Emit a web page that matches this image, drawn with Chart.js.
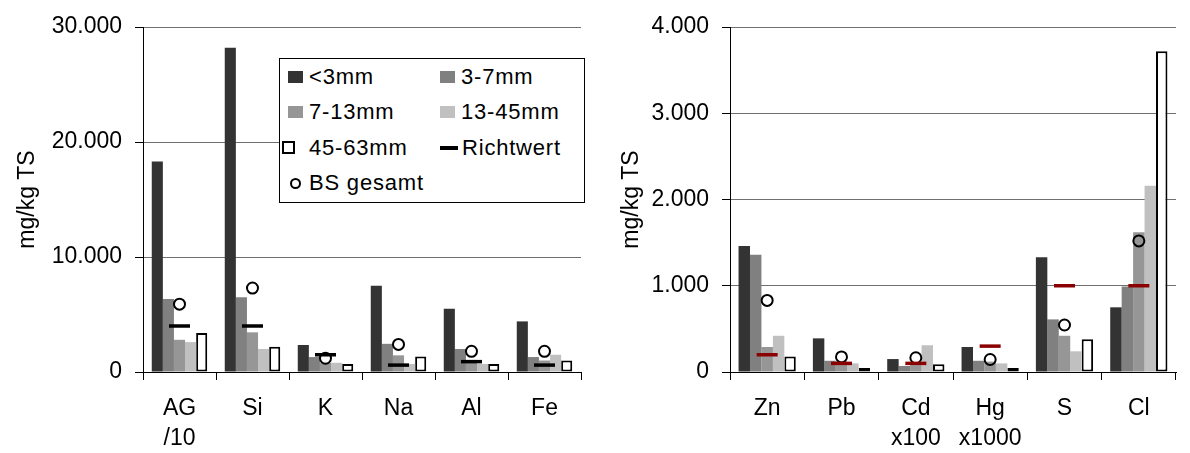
<!DOCTYPE html>
<html>
<head>
<meta charset="utf-8">
<script src="https://cdn.jsdelivr.net/npm/chart.js@4/dist/chart.umd.min.js"></script>
<style>
  body { margin: 0; background: #fff; font-family: "Liberation Sans", Arial, sans-serif; }
  #wrap { position: relative; width: 1190px; height: 453px; overflow: hidden; }
  #chartL { position: absolute; left: 0; top: 0; }
  #chartR { position: absolute; left: 600px; top: 0; }
  .legend { position: absolute; left: 279px; top: 58px; width: 304px; height: 143px;
    border: 1px solid #000; background: #fff; font-size: 22px; letter-spacing: 0.8px; color: #000; }
  .item { position: absolute; height: 35.5px; display: flex; align-items: center; }
  .sw { width: 15px; height: 12px; margin-right: 6px; box-sizing: border-box; }
  .sw.hollow { width: 13px; height: 13px; border: 2px solid #000; margin-left: -6px; margin-right: 14px; }
  .sw.dash { width: 18px; height: 4px; background: #000; margin-right: 4px; }
  .sw.ring { width: 11px; height: 11px; border: 2px solid #000; border-radius: 50%; margin-left: 2px; margin-right: 8px; }
</style>
</head>
<body>
<div id="wrap">
  <canvas id="chartL" width="595" height="453"></canvas>
  <canvas id="chartR" width="590" height="453"></canvas>
  <div class="legend" id="legend"></div>
</div>
<script>
// left chart (main elements)
const labelsL = [["AG", "/10"], "Si", "K", "Na", "Al", "Fe"];
const lt3L = [18300, 28200, 2350, 7500, 5500, 4400];
const s3to7L = [6350, 6500, 1300, 2450, 2000, 1300];
const s7to13L = [2800, 3450, 800, 1450, 1050, 1000];
const s13to45L = [2600, 2000, 800, 700, 700, 1500];
const s45to63L = [3400, 2200, 700, 1350, 700, 1000];
const richtL = [4000, 4000, 1500, 600, 900, 600];
const bsL = [5900, 7300, 1200, 2400, 1800, 1800];

// right chart (trace elements)
const labelsR = ["Zn", "Pb", ["Cd", "x100"], ["Hg", "x1000"], "S", "Cl"];
const lt3R = [1460, 390, 150, 290, 1330, 750];
const s3to7R = [1360, 130, 70, 130, 610, 990];
const s7to13R = [290, 120, 80, 120, 420, 1620];
const s13to45R = [420, 100, 310, 100, 240, 2160];
const s45to63R = [180, 45, 90, 45, 380, 3720];
const richtR = [200, 100, 100, 300, 1000, 1000];
const bsR = [830, 175, 165, 145, 545, 1520];

const seriesNames = ["<3mm", "3-7mm", "7-13mm", "13-45mm", "45-63mm"];
const seriesColors = ["#333333", "#808080", "#969696", "#c0c0c0", "#ffffff"];
const fontName = "'Liberation Sans', Arial, sans-serif";

function fmt(v) {
  return String(v).replace(/\B(?=(\d{3})+(?!\d))/g, ".");
}

function makeChart(id, labels, bars, richt, bs, yMax, yStep, axisWidth, titlePad, padRight, richtColor, catPct) {
  let datasets = [];
  for (let i = 0; i < bars.length; i++) {
    datasets.push({
      label: seriesNames[i],
      data: bars[i],
      backgroundColor: seriesColors[i],
      borderColor: "#000",
      borderWidth: i === 4 ? 2 : 0,
      borderSkipped: false,
      categoryPercentage: catPct,
      barPercentage: 1,
      order: 1
    });
  }
  datasets.push({
    type: "line",
    label: "Richtwert",
    data: richt,
    showLine: false,
    pointStyle: "line",
    pointRadius: 10.5,
    pointHoverRadius: 10.5,
    pointBorderWidth: 3.5,
    pointBorderColor: richtColor,
    order: 0
  });
  datasets.push({
    type: "line",
    label: "BS gesamt",
    data: bs,
    showLine: false,
    pointStyle: "circle",
    pointRadius: 5.5,
    pointHoverRadius: 5.5,
    pointBorderWidth: 2,
    pointBorderColor: "#000",
    pointBackgroundColor: "rgba(0,0,0,0)",
    order: 0
  });

  let ctx = document.getElementById(id).getContext("2d");
  return new Chart(ctx, {
    type: "bar",
    data: { labels: labels, datasets: datasets },
    options: {
      responsive: false,
      animation: false,
      layout: { padding: { top: 27, right: padRight, bottom: 0, left: 0 } },
      plugins: { legend: { display: false }, tooltip: { enabled: false } },
      scales: {
        x: {
          grid: {
            offset: true,
            drawOnChartArea: true,
            color: (c) => (c.index === labels.length ? "#808080" : "rgba(0,0,0,0)"),
            tickColor: "#000",
            tickLength: 8
          },
          border: { color: "#000", width: 1 },
          ticks: {
            color: "#000",
            padding: 14,
            maxRotation: 0,
            autoSkip: false,
            font: { family: fontName, size: 23, lineHeight: 1.3 }
          },
          afterFit: (scale) => { scale.height = 81; }
        },
        y: {
          min: 0,
          max: yMax,
          ticks: {
            stepSize: yStep,
            color: "#000",
            padding: 13,
            font: { family: fontName, size: 23 },
            callback: (v) => fmt(v)
          },
          grid: { color: "#707070", tickColor: "#000", tickLength: 8 },
          border: { color: "#000", width: 1 },
          title: {
            display: true,
            text: "mg/kg TS",
            color: "#000",
            padding: { top: titlePad, bottom: 0 },
            font: { family: fontName, size: 23, lineHeight: 1.2 }
          },
          afterFit: (scale) => { scale.width = axisWidth; }
        }
      }
    }
  });
}

makeChart("chartL", labelsL, [lt3L, s3to7L, s7to13L, s13to45L, s45to63L], richtL, bsL,
  30000, 10000, 143, 14, 8, "#000000", 0.76);
makeChart("chartR", labelsR, [lt3R, s3to7R, s7to13R, s13to45R, s45to63R], richtR, bsR,
  4000, 1000, 130, 18, 0, "#8b0000", 0.77);

// legend of left chart, two columns like the original
const legendItems = [
  { text: "<3mm", sw: "sw", color: seriesColors[0], col: 0, row: 0 },
  { text: "3-7mm", sw: "sw", color: seriesColors[1], col: 1, row: 0 },
  { text: "7-13mm", sw: "sw", color: seriesColors[2], col: 0, row: 1 },
  { text: "13-45mm", sw: "sw", color: seriesColors[3], col: 1, row: 1 },
  { text: "45-63mm", sw: "sw hollow", color: "#fff", col: 0, row: 2 },
  { text: "Richtwert", sw: "sw dash", color: "#000", col: 1, row: 2 },
  { text: "BS gesamt", sw: "sw ring", color: "transparent", col: 0, row: 3 }
];
const colX = [8, 160];
let legendHtml = "";
for (let it of legendItems) {
  let left = colX[it.col];
  let top = it.row * 35.5;
  legendHtml += `<div class="item" style="left:${left}px;top:${top}px">` +
    `<span class="${it.sw}" style="background:${it.color}"></span><span>${it.text.replace("<", "&lt;")}</span></div>`;
}
document.getElementById("legend").innerHTML = legendHtml;
</script>
</body>
</html>
